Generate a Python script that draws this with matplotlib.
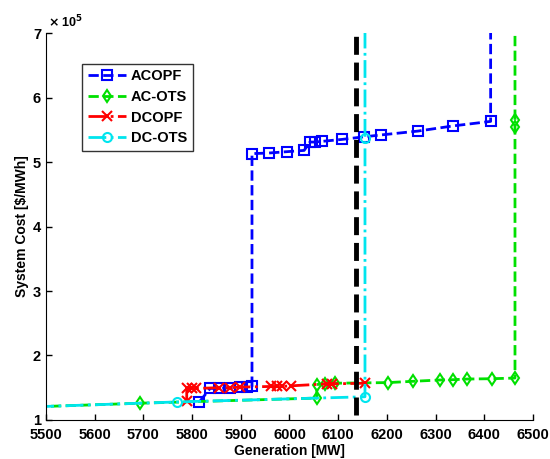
import matplotlib
matplotlib.use('Agg')
import matplotlib.pyplot as plt

plt.rcParams['font.family'] = ['Liberation Sans', 'DejaVu Sans']
plt.rcParams['font.weight'] = 'bold'

# system cost in units of 1e5 $/MWh, generation in MW
acopf_gen = [5815, 5837, 5855, 5878, 5898, 5912, 5923, 5923, 5958, 5994, 6030,
             6042, 6052, 6066, 6107, 6152, 6188, 6264, 6336, 6413, 6413]
acopf_cost = [1.28, 1.49, 1.49, 1.50, 1.51, 1.51, 1.52, 5.13, 5.14, 5.16, 5.18,
              5.31, 5.31, 5.32, 5.35, 5.39, 5.42, 5.48, 5.56, 5.63, 8.0]

acots_gen = [5480, 5693, 6056, 6056, 6073, 6093, 6203, 6254, 6309, 6336, 6365,
             6415, 6463, 6463, 6463, 6463]
acots_cost = [1.205, 1.26, 1.34, 1.55, 1.56, 1.57, 1.58, 1.60, 1.62, 1.625, 1.635,
              1.64, 1.65, 5.55, 5.65, 8.0]

dcopf_gen = [5789, 5789, 5799, 5809, 5855, 5878, 5898, 5963, 5975, 5985, 6004,
             6076, 6087, 6155]
dcopf_cost = [1.29, 1.49, 1.49, 1.49, 1.50, 1.50, 1.51, 1.52, 1.52, 1.52, 1.53,
              1.56, 1.56, 1.57]

dcots_gen = [5480, 5770, 6155, 6155, 6155]
dcots_cost = [1.205, 1.28, 1.36, 5.38, 8.0]

demand_gen = [6137, 6137]
demand_cost = [1.08, 7.0]

fig = plt.figure(figsize=(5.5, 4.59), dpi=100)
ax = fig.add_axes([0.0836, 0.085, 0.8855, 0.843])

ax.plot(acopf_gen, acopf_cost, '--', color='#0000ff', lw=2, marker='s', ms=6.5,
        mfc='none', mec='#0000ff', mew=1.5, label='ACOPF')
ax.plot(acots_gen, acots_cost, '--', color='#00e000', lw=2, marker='d', ms=6.5,
        mfc='none', mec='#00e000', mew=1.5, label='AC-OTS')
ax.plot(dcopf_gen, dcopf_cost, '-.', color='#ff0000', lw=2, marker='x', ms=6.5,
        mew=1.5, label='DCOPF')
ax.plot(dcots_gen, dcots_cost, '-.', color='#00e5ee', lw=2, marker='o', ms=6.5,
        mfc='none', mec='#00e5ee', mew=1.5, label='DC-OTS')
ax.plot(demand_gen, demand_cost, '--', color='black', lw=3.5)

ax.set_xlim(5500, 6500)
ax.set_ylim(1, 7)
ax.set_xticks(range(5500, 6501, 100))
ax.set_yticks(range(1, 8))
ax.tick_params(direction='in', length=4, labelsize=10.5, width=1)
ax.tick_params(axis='x', pad=6)
for lab in ax.get_xticklabels() + ax.get_yticklabels():
    lab.set_fontweight('bold')
ax.spines['top'].set_visible(False)
ax.spines['right'].set_visible(False)

ax.set_xlabel('Generation [MW]', fontsize=10, fontweight='bold', labelpad=1)
ax.set_ylabel('System Cost [$/MWh]', fontsize=10, fontweight='bold', labelpad=3)
ax.text(0.005, 1.008, r'$\times$ 10$^5$', transform=ax.transAxes, fontsize=9,
        fontweight='bold', va='bottom', ha='left')

leg = ax.legend(loc='upper left', bbox_to_anchor=(0.06, 0.94), fontsize=10.5,
                frameon=True, fancybox=False, edgecolor='black', handlelength=2.6,
                borderpad=0.4, labelspacing=0.45, handletextpad=0.3)
leg.get_frame().set_linewidth(1)
for t in leg.get_texts():
    t.set_fontweight('bold')

fig.savefig('out.png', dpi=100)
